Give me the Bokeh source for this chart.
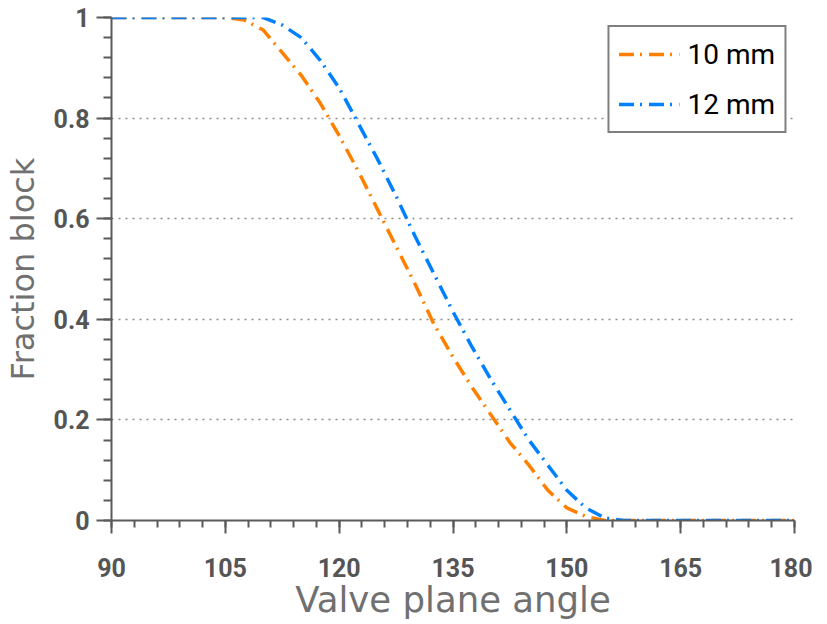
from bokeh.plotting import figure
from bokeh.models import FixedTicker, Range1d, Legend, LegendItem, CustomJSTickFormatter
from bokeh.embed import file_html
from bokeh.resources import INLINE

# Data
angles = [90, 95, 100, 105, 107.5, 110, 112.5, 115, 117.5, 120, 122.5, 125, 127.5,
          130, 132.5, 135, 137.5, 140, 142.5, 145, 147.5, 150, 152.5, 155, 157.5,
          160, 165, 170, 175, 180]
frac_10mm = [1, 1, 1, 1, 0.995, 0.975, 0.93, 0.885, 0.83, 0.765, 0.695, 0.62, 0.545,
             0.47, 0.39, 0.325, 0.265, 0.21, 0.155, 0.11, 0.06, 0.025, 0.008, 0, 0,
             0, 0, 0, 0, 0]
frac_12mm = [1, 1, 1, 1, 1, 1, 0.985, 0.96, 0.915, 0.86, 0.79, 0.72, 0.645,
             0.565, 0.49, 0.415, 0.345, 0.28, 0.22, 0.16, 0.11, 0.06, 0.025, 0.005, 0,
             0, 0, 0, 0, 0]
series_labels = ["10 mm", "12 mm"]
x_title = "Valve plane angle"
y_title = "Fraction block"
x_ticks = [90, 105, 120, 135, 150, 165, 180]
x_minor = list(range(90, 181, 3))
y_ticks = [0, 0.2, 0.4, 0.6, 0.8, 1.0]
y_minor = [i * 0.04 for i in range(26)]

AX = "#5a5a5a"

p = figure(frame_width=683, frame_height=503,
           x_range=Range1d(90, 180), y_range=Range1d(0, 1),
           output_backend="svg", toolbar_location=None,
           min_border_left=110, min_border_right=18, min_border_top=17, min_border_bottom=96)
p.outline_line_color = None
p.background_fill_color = "white"
p.border_fill_color = "white"

p.xgrid.visible = False
p.ygrid.ticker = FixedTicker(ticks=[0.2, 0.4, 0.6, 0.8, 1.0])
p.ygrid.grid_line_color = "#8c8c8c"
p.ygrid.grid_line_dash = "2 5"
p.ygrid.grid_line_width = 1.5

for ax in (p.xaxis[0], p.yaxis[0]):
    ax.axis_line_color = AX
    ax.axis_line_width = 2
    ax.major_tick_line_color = AX
    ax.minor_tick_line_color = AX
    ax.major_tick_line_width = 2
    ax.minor_tick_line_width = 2
    ax.major_tick_in = 0
    ax.minor_tick_in = 0
    ax.major_label_text_font = "Roboto"
    ax.major_label_text_font_style = "bold"
    ax.major_label_text_font_size = "25px"
    ax.major_label_text_color = "#555555"
    ax.axis_label_text_font = "DejaVu Sans"
    ax.axis_label_text_font_style = "normal"
    ax.axis_label_text_color = "#707070"

p.xaxis.ticker = FixedTicker(ticks=x_ticks, minor_ticks=x_minor)
p.xaxis.major_tick_out = 13
p.xaxis.minor_tick_out = 7
p.xaxis.major_label_standoff = 24
p.xaxis.axis_label = x_title
p.xaxis.axis_label_text_font_size = "35.5px"
p.xaxis.axis_label_standoff = -1

p.yaxis.ticker = FixedTicker(ticks=y_ticks, minor_ticks=y_minor)
p.yaxis.formatter = CustomJSTickFormatter(code="return String(Math.round(tick*10)/10)")
p.yaxis.major_tick_out = 15
p.yaxis.minor_tick_out = 8
p.yaxis.major_label_standoff = 7
p.yaxis.axis_label = y_title
p.yaxis.axis_label_text_font_size = "32px"
p.yaxis.axis_label_standoff = 9

dash = "15 6 2 7"
r1 = p.line(angles, frac_10mm, line_color="#ff8000", line_width=3.5, line_dash=dash)
r2 = p.line(angles, frac_12mm, line_color="#0080ff", line_width=3.5, line_dash=dash)

legend = Legend(items=[LegendItem(label=series_labels[0], renderers=[r1]),
                       LegendItem(label=series_labels[1], renderers=[r2])],
                location="top_right")
legend.margin = 8
legend.padding = 9
legend.spacing = 14
legend.glyph_width = 61
legend.glyph_height = 36
legend.label_height = 36
legend.label_standoff = 8
legend.label_text_font = "Roboto"
legend.label_text_font_size = "28px"
legend.label_text_color = "black"
legend.border_line_color = "black"
legend.border_line_width = 2
legend.background_fill_color = "white"
legend.background_fill_alpha = 1
p.add_layout(legend)

open("out.html", "w").write(file_html(p, INLINE))
